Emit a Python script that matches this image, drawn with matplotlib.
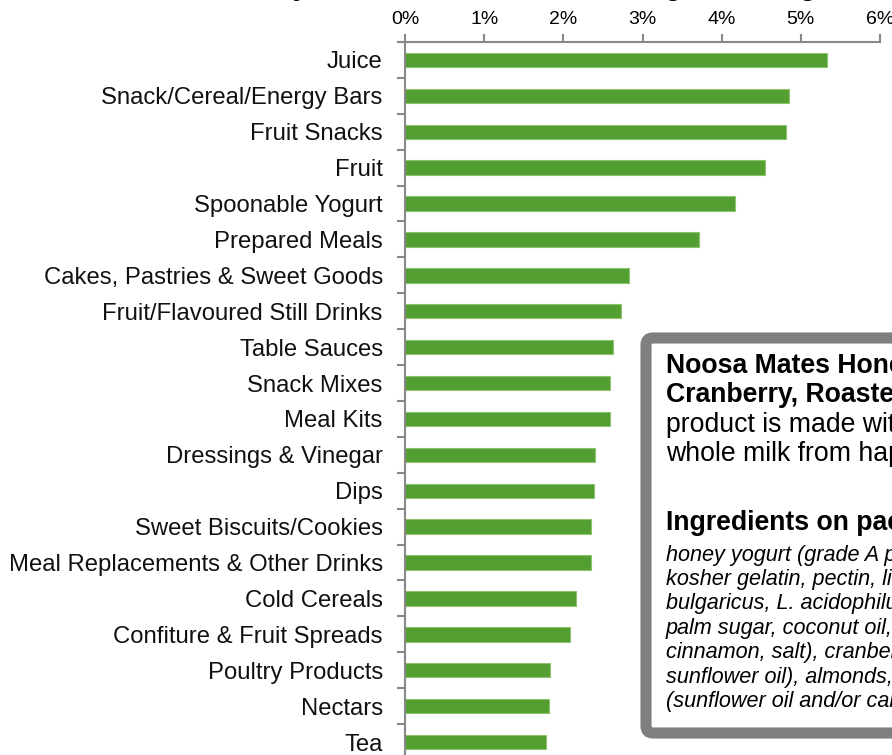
import matplotlib.pyplot as plt
import numpy as np
from matplotlib.patches import FancyBboxPatch
from matplotlib.transforms import IdentityTransform

categories = ['Juice', 'Snack/Cereal/Energy Bars', 'Fruit Snacks', 'Fruit',
              'Spoonable Yogurt', 'Prepared Meals', 'Cakes, Pastries & Sweet Goods',
              'Fruit/Flavoured Still Drinks', 'Table Sauces', 'Snack Mixes',
              'Meal Kits', 'Dressings & Vinegar', 'Dips', 'Sweet Biscuits/Cookies',
              'Meal Replacements & Other Drinks', 'Cold Cereals',
              'Confiture & Fruit Spreads', 'Poultry Products', 'Nectars', 'Tea']
share = [5.33, 4.85, 4.81, 4.55, 4.17, 3.71, 2.83, 2.73, 2.63, 2.59,
         2.59, 2.40, 2.39, 2.35, 2.35, 2.16, 2.08, 1.83, 1.82, 1.78]
xticks = [0, 1, 2, 3, 4, 5, 6]
xticklabels = ['0%', '1%', '2%', '3%', '4%', '5%', '6%']

title = 'Honey-Flavoured Launches Ranked by Share of Launches in Categories, Aug 2019'
box_bold = ['Noosa Mates Honey Yogurt with', 'Cranberry, Roasted Almonds & Oats:']
box_text = ['product is made with pasture-raised', 'whole milk from happy cows']
box_head = 'Ingredients on pack:'
box_ingr = ['honey yogurt (grade A pasteurized whole milk, cane sugar,',
            'kosher gelatin, pectin, live and active cultures (S. thermophilus, L.',
            'bulgaricus, L. acidophilus, bifidus)), granola (oats, honey,',
            'palm sugar, coconut oil, almonds, rice flour,',
            'cinnamon, salt), cranberries (cranberries, sugar,',
            'sunflower oil), almonds, honey roasted almonds',
            '(sunflower oil and/or canola oil)']

W, H = 892, 755
plt.rcParams['font.family'] = ['Liberation Sans', 'DejaVu Sans']
fig = plt.figure(figsize=(W / 100, H / 100), dpi=100)
fig.patch.set_facecolor('white')

ax = fig.add_axes([405 / W, -5 / H, 475 / W, 718 / H])
y = np.arange(len(categories))
ax.barh(y, share, height=0.4, color='#529e30', edgecolor='#8dc26f', linewidth=0.8)
ax.set_ylim(len(categories) - 0.5, -0.5)
ax.set_xlim(0, 6)

ax.xaxis.tick_top()
ax.set_xticks(xticks)
ax.set_xticklabels(xticklabels, fontsize=14)
ax.tick_params(axis='x', length=6, width=1.5, color='#888888', pad=4)

ax.set_yticks(y)
ax.set_yticklabels(categories, fontsize=17.2, color='#111111')
ax.tick_params(axis='y', which='major', length=0, pad=16)
ax.set_yticks(np.arange(-0.5, len(categories), 1), minor=True)
ax.tick_params(axis='y', which='minor', length=6, width=1.5, color='#888888')

for side in ['right', 'bottom']:
    ax.spines[side].set_visible(False)
for side in ['top', 'left']:
    ax.spines[side].set_color('#888888')
    ax.spines[side].set_linewidth(1.5)

# title sits above the crop, only the descenders show
fig.text(-204 / W, 1 + 5 / H, title, fontsize=20, fontweight='bold', va='baseline', ha='left')

# callout box (pixel coords, runs past the right edge)
box = FancyBboxPatch((646, H - 733), 400, 395, boxstyle='round,pad=0,rounding_size=7',
                     transform=IdentityTransform(), facecolor='white',
                     edgecolor='#7f7f7f', linewidth=8, zorder=5)
fig.patches.append(box)

tx = 666 / W
for i, s in enumerate(box_bold):
    fig.text(tx, 1 - (366 + 29.3 * i) / H, s, fontsize=19.2, fontweight='bold', va='center', zorder=6)
for i, s in enumerate(box_text):
    fig.text(tx, 1 - (425 + 29.3 * i) / H, s, fontsize=19.2, va='center', zorder=6)
fig.text(tx, 1 - 523 / H, box_head, fontsize=19.2, fontweight='bold', va='center', zorder=6)
for i, s in enumerate(box_ingr):
    fig.text(tx, 1 - (555 + 24.4 * i) / H, s, fontsize=15.6, style='italic', va='center', zorder=6)

fig.savefig('out.png', dpi=100)
